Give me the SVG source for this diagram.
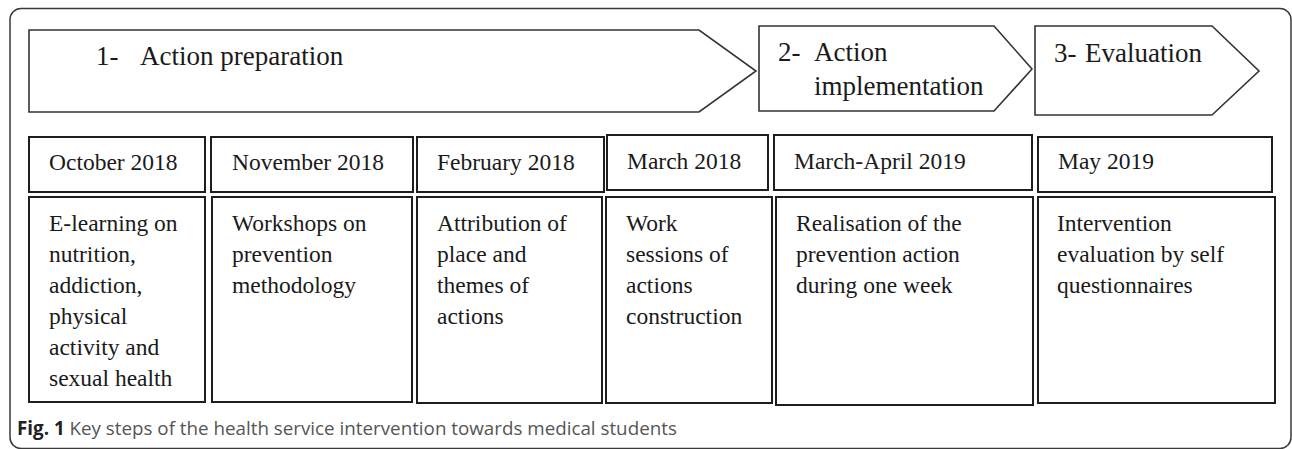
<svg xmlns="http://www.w3.org/2000/svg" width="1292" height="449" viewBox="0 0 1292 449">
<style>
.frame{fill:none;stroke:#3a3a3a;stroke-width:1.5}
.arrow{fill:#fff;stroke:#333;stroke-width:1.6}
.box{fill:#fff;stroke:#1e1e1e;stroke-width:2}
.t{font-family:"Liberation Serif","Times New Roman",serif;fill:#1a1a1a}
.big{font-size:27px}
.mid{font-size:23.5px}
.cap{font-family:"Open Sans","Noto Sans",sans-serif;font-size:18.8px;fill:#555}
.capb{font-weight:bold;fill:#222}
</style>
<rect class="frame" x="10" y="8.5" width="1281" height="440" rx="11"/>
<g id="phase1">
<polygon class="arrow" points="29,30 699,30 756,71 699,112 29,112"/>
<text class="t big" x="96" y="65">1-</text>
<text class="t big" x="140" y="65">Action preparation</text>
</g>
<g id="phase2">
<polygon class="arrow" points="759,26 994,26 1032,69 994,111 759,111"/>
<text class="t big" x="778" y="61">2-</text>
<text class="t big" x="814" y="61">Action</text>
<text class="t big" x="814" y="95">implementation</text>
</g>
<g id="phase3">
<polygon class="arrow" points="1035,26 1212,26 1259,71 1212,115 1035,115"/>
<text class="t big" x="1054" y="62">3-</text>
<text class="t big" x="1085" y="62">Evaluation</text>
</g>
<g id="step1">
<rect class="box" x="29" y="137" width="176" height="55"/>
<text class="t mid" x="49" y="170">October 2018</text>
<rect class="box" x="29" y="197" width="176" height="205"/>
<text class="t mid" x="49"><tspan x="49" y="231">E-learning on</tspan><tspan x="49" y="262">nutrition,</tspan><tspan x="49" y="293">addiction,</tspan><tspan x="49" y="324">physical</tspan><tspan x="49" y="355">activity and</tspan><tspan x="49" y="386">sexual health</tspan></text>
</g>
<g id="step2">
<rect class="box" x="211" y="137" width="202" height="55"/>
<text class="t mid" x="232" y="170">November 2018</text>
<rect class="box" x="212" y="197" width="200" height="205"/>
<text class="t mid"><tspan x="232" y="231">Workshops on</tspan><tspan x="232" y="262">prevention</tspan><tspan x="232" y="293">methodology</tspan></text>
</g>
<g id="step3">
<rect class="box" x="417" y="137" width="187" height="55"/>
<text class="t mid" x="437" y="170">February 2018</text>
<rect class="box" x="417" y="197" width="185" height="206"/>
<text class="t mid"><tspan x="437" y="231">Attribution of</tspan><tspan x="437" y="262">place and</tspan><tspan x="437" y="293">themes of</tspan><tspan x="437" y="324">actions</tspan></text>
</g>
<g id="step4">
<rect class="box" x="607" y="135" width="161" height="55"/>
<text class="t mid" x="627" y="169">March 2018</text>
<rect class="box" x="606" y="197" width="166" height="206"/>
<text class="t mid"><tspan x="626" y="231">Work</tspan><tspan x="626" y="262">sessions of</tspan><tspan x="626" y="293">actions</tspan><tspan x="626" y="324">construction</tspan></text>
</g>
<g id="step5">
<rect class="box" x="774" y="135" width="258" height="55"/>
<text class="t mid" x="794" y="169">March-April 2019</text>
<rect class="box" x="776" y="197" width="257" height="208"/>
<text class="t mid"><tspan x="796" y="231">Realisation of the</tspan><tspan x="796" y="262">prevention action</tspan><tspan x="796" y="293">during one week</tspan></text>
</g>
<g id="step6">
<rect class="box" x="1038" y="137" width="234" height="55"/>
<text class="t mid" x="1058" y="169">May 2019</text>
<rect class="box" x="1038" y="197" width="237" height="206"/>
<text class="t mid"><tspan x="1057" y="231">Intervention</tspan><tspan x="1057" y="262">evaluation by self</tspan><tspan x="1057" y="293">questionnaires</tspan></text>
</g>
<text class="cap" x="17" y="435"><tspan class="capb">Fig. 1</tspan> Key steps of the health service intervention towards medical students</text>
</svg>
